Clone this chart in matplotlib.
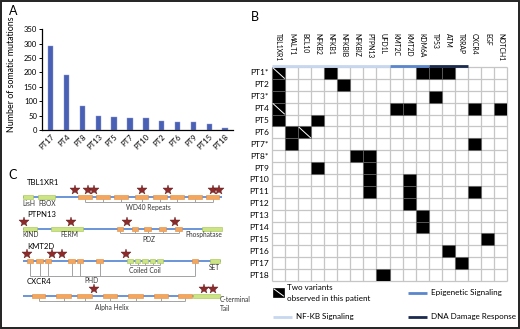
import matplotlib
matplotlib.use('Agg')
import matplotlib.pyplot as plt
from matplotlib.patches import Rectangle
from matplotlib.lines import Line2D
import numpy as np

plt.rcParams['font.family'] = ['Lato', 'DejaVu Sans']

# ---- panel A data
pt_order = ['PT17', 'PT4', 'PT8', 'PT13', 'PT5', 'PT7', 'PT10', 'PT2', 'PT6', 'PT9', 'PT15', 'PT18']
mutations = [293, 191, 82, 48, 44, 42, 42, 31, 28, 27, 21, 6]

# ---- panel B data
genes = ['TBL1XR1', 'MALT1', 'BCL10', 'NFKB2', 'NFKB1', 'NFKBIB', 'NFKBIZ', 'PTPN13', 'UFD1L',
         'KMT2C', 'KMT2D', 'KDM6A', 'TP53', 'ATM', 'TRRAP', 'CXCR4', 'EGF', 'NOTCH1']
patients = ['PT1*', 'PT2', 'PT3*', 'PT4', 'PT5', 'PT6', 'PT7*', 'PT8*', 'PT9', 'PT10',
            'PT11', 'PT12', 'PT13', 'PT14', 'PT15', 'PT16', 'PT17', 'PT18']
patient_genes = [
    ['TBL1XR1', 'NFKB1', 'KDM6A', 'TP53', 'ATM'],
    ['TBL1XR1', 'NFKBIB'],
    ['TBL1XR1', 'TP53'],
    ['TBL1XR1', 'KMT2C', 'KMT2D', 'CXCR4', 'NOTCH1'],
    ['TBL1XR1', 'NFKB2'],
    ['MALT1', 'BCL10'],
    ['MALT1', 'CXCR4'],
    ['NFKBIZ', 'PTPN13'],
    ['NFKB2', 'PTPN13'],
    ['PTPN13', 'KMT2D'],
    ['PTPN13', 'KMT2D', 'CXCR4'],
    ['KMT2D'],
    ['KDM6A'],
    ['KDM6A'],
    ['EGF'],
    ['ATM'],
    ['TRRAP'],
    ['UFD1L'],
]
two_variants = [('PT1*', 'TBL1XR1'), ('PT4', 'TBL1XR1'), ('PT6', 'BCL10')]
pathway_names = ['NF-KB Signaling', 'Epigenetic Signaling', 'DNA Damage Response']
pathway_span = [('TBL1XR1', 'UFD1L'), ('KMT2C', 'KDM6A'), ('TP53', 'TRRAP')]
pathway_colors = ['#c8d7f0', '#5a86cc', '#1b2a4e']

# ---- panel C data (relative positions along each protein)
proteins = ['TBL1XR1', 'PTPN13', 'KMT2D', 'CXCR4']
prot_len = [199, 199, 198, 197]
green_dom = [
    [(0, 10), (15, 32)],
    [(0, 14), (28, 60), (179, 199)],
    [(104, 110), (112, 117), (119, 125), (127, 132), (134, 140), (187, 197)],
    [(170, 197)],
]
orange_dom = [
    [(55, 69), (73, 87), (91, 105), (112, 125), (130, 144), (147, 161), (165, 179), (183, 196)],
    [(94, 100), (109, 115), (121, 128), (136, 143), (152, 159)],
    [(4, 10), (13, 20), (22, 28), (45, 52), (54, 60), (73, 80), (169, 175)],
    [(9, 22), (33, 48), (54, 69), (80, 94), (105, 120), (131, 145), (155, 169)],
]
star_pos = [
    [52, 65, 71, 119, 145, 190, 196],
    [1, 48, 104, 152],
    [4, 29, 39, 103],
    [71, 181, 190],
]

W, H = 520, 329
fig = plt.figure(figsize=(W / 100, H / 100), dpi=100)


def fx(x):
    return x / W


def fy(y):
    return 1 - y / H


# ---------------- A
axA = fig.add_axes([fx(42), fy(130), 191 / W, 100.7 / H])
x = np.arange(len(pt_order))
axA.bar(x, mutations, width=0.34, color='#4a60b4', edgecolor='#8d9bd6', linewidth=0.3)
axA.set_xlim(-0.55, 11.5)
axA.set_ylim(0, 350)
axA.set_yticks(range(0, 351, 50))
axA.set_xticks(x)
axA.set_xticklabels(pt_order, rotation=45, ha='right', rotation_mode='anchor')
for s in ['top', 'right']:
    axA.spines[s].set_visible(False)
for s in ['left', 'bottom']:
    axA.spines[s].set_linewidth(0.9)
axA.tick_params(axis='y', length=2, width=0.7, pad=1.5, labelsize=5.5)
axA.tick_params(axis='x', length=0, pad=2, labelsize=5.5)
fig.text(fx(12), fy(132), 'Number of somatic mutations', rotation=90,
         ha='center', va='bottom', fontsize=6.4)

# ---------------- B
axB = fig.add_axes([fx(272), fy(281), 235 / W, 214 / H])
axB.set_xlim(0, len(genes))
axB.set_ylim(len(patients), 0)
axB.axis('off')
axB.vlines(range(len(genes) + 1), 0, len(patients), color='#c6c6c6', lw=0.9, clip_on=False)
axB.hlines(range(len(patients) + 1), 0, len(genes), color='#c6c6c6', lw=0.9, clip_on=False)
for r, gl in enumerate(patient_genes):
    for g in gl:
        c = genes.index(g)
        axB.add_patch(Rectangle((c, r), 1, 1, fc='black', ec='#666666', lw=0.5, zorder=3))
for p, g in two_variants:
    r, c = patients.index(p), genes.index(g)
    axB.plot([c + 0.08, c + 0.95], [r + 0.08, r + 0.95], color='white', lw=0.7, zorder=4)
for r, p in enumerate(patients):
    axB.text(-0.25, r + 0.5, p, ha='right', va='center', fontsize=6)
for c, g in enumerate(genes):
    axB.text(c + 0.5, -2.86, g, rotation=-90, ha='center', va='top', fontsize=4.9)
for (g0, g1), col in zip(pathway_span, pathway_colors):
    axB.plot([genes.index(g0), genes.index(g1) + 1], [-0.08, -0.08], color=col, lw=2,
             solid_capstyle='butt', clip_on=False, zorder=5)

# legend of B
fig.add_artist(Rectangle((fx(273), fy(297)), 11 / W, 9 / H, transform=fig.transFigure,
                         fc='black', ec='black', lw=0.5))
fig.add_artist(Line2D([fx(274), fx(283.5)], [fy(289), fy(296)], transform=fig.transFigure,
                      color='white', lw=0.7))
fig.text(fx(287), fy(288), 'Two variants', ha='left', va='center', fontsize=5.8)
fig.text(fx(287), fy(298.5), 'observed in this patient', ha='left', va='center', fontsize=5.8)
leg_xy = [(273, 317), (408, 293), (408, 317)]
for (lx, ly), name, col in zip(leg_xy, pathway_names, pathway_colors):
    fig.add_artist(Line2D([fx(lx), fx(lx + 19)], [fy(ly), fy(ly)], transform=fig.transFigure,
                          color=col, lw=2, solid_capstyle='butt'))
    fig.text(fx(lx + 23), fy(ly), name, ha='left', va='center', fontsize=5.8)

# ---------------- C
axC = fig.add_axes([0, 0, 260 / W, 159 / H])
axC.set_xlim(-23, 237)
axC.set_ylim(329, 170)
axC.axis('off')
row_y = [197, 229, 261, 296]
box_h = 4.5
br_col = '#a3a3a3'


def bracket(doms, y, y_line, label, label_x=None, label_y=None):
    cs = [(a + b) / 2 for a, b in doms]
    axC.vlines(cs, y + box_h / 2, y_line, color=br_col, lw=0.7)
    axC.hlines(y_line, cs[0], cs[-1], color=br_col, lw=0.7)
    if label_x is None:
        label_x = (cs[0] + cs[-1]) / 2
    axC.text(label_x, label_y, label, ha='center', va='center', fontsize=4.8, color='#333333')


for i, name in enumerate(proteins):
    y = row_y[i]
    axC.plot([0, prot_len[i]], [y, y], color='#6a95d8', lw=1.4, zorder=1, solid_capstyle='butt')
    for a, b in orange_dom[i]:
        axC.add_patch(Rectangle((a, y - box_h / 2), b - a, box_h, fc='#f4a75c', ec='#e0893a',
                                lw=0.4, zorder=2))
    for a, b in green_dom[i]:
        axC.add_patch(Rectangle((a, y - box_h / 2), b - a, box_h, fc='#cde484', ec='#a3c44e',
                                lw=0.4, zorder=2))
    axC.plot(star_pos[i], [y - 7] * len(star_pos[i]), ls='none', marker='*', ms=7,
             color='#8c2b2b', mec='#5e1a1a', mew=0.3, zorder=3)
    axC.text(4, y - 14, name, ha='left', va='center', fontsize=5.6)

bracket(orange_dom[0], row_y[0], 202, 'WD40 Repeats', label_y=207.5)
bracket(orange_dom[1], row_y[1], 233, 'PDZ', label_y=240)
bracket(orange_dom[2], row_y[2], 276, 'PHD', label_x=68, label_y=281)
bracket(green_dom[2][:5], row_y[2], 265, 'Coiled Coil', label_y=271)
bracket(orange_dom[3], row_y[3], 301, 'Alpha Helix', label_y=308)

dom_labels = [('LisH', 6, 203.5, 'center'), ('FBOX', 24, 203.5, 'center'),
              ('KIND', 8, 235, 'center'), ('FERM', 46, 235, 'center'),
              ('Phosphatase', 199, 235, 'right'), ('SET', 191, 268, 'center'),
              ('C-terminal', 197, 300, 'left'), ('Tail', 197, 309, 'left')]
for t, lx, ly, ha in dom_labels:
    axC.text(lx, ly, t, ha=ha, va='center', fontsize=4.8, color='#333333')

# panel letters
fig.text(fx(13), fy(11), 'A', ha='center', va='center', fontsize=9)
fig.text(fx(255), fy(17), 'B', ha='center', va='center', fontsize=9)
fig.text(fx(13), fy(175), 'C', ha='center', va='center', fontsize=9)

fig.add_artist(Rectangle((0.001, 0.002), 0.997, 0.995, transform=fig.transFigure,
                         fill=False, ec='#222222', lw=1.4))

fig.savefig('out.png', dpi=100)
